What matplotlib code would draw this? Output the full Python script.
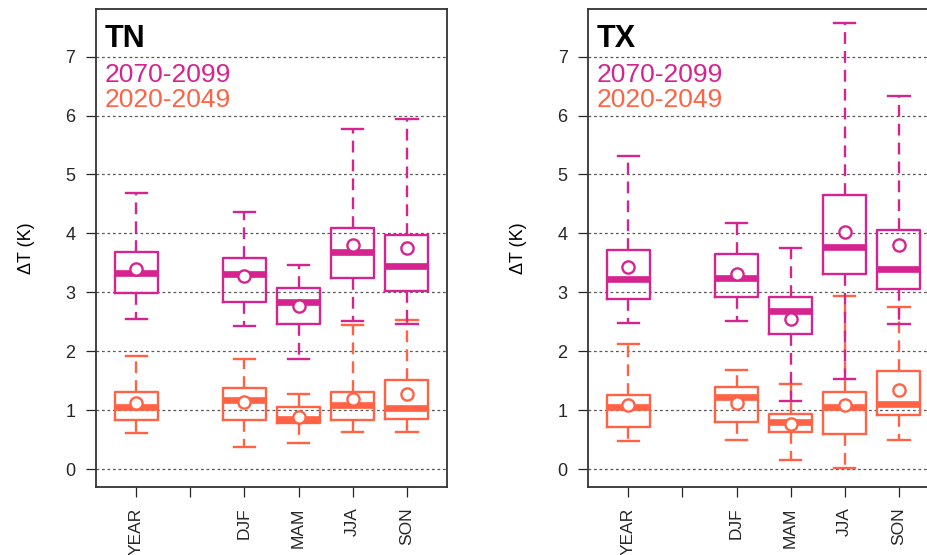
import matplotlib
matplotlib.use('Agg')
import matplotlib.pyplot as plt

plt.rcParams['font.family'] = ['Liberation Sans', 'DejaVu Sans']

seasons = ['YEAR', 'DJF', 'MAM', 'JJA', 'SON']
positions = [1, 3, 4, 5, 6]
tick_pos = [1, 2, 3, 4, 5, 6]
tick_labels = ['YEAR', '', 'DJF', 'MAM', 'JJA', 'SON']
periods = ['2070-2099', '2020-2049']

# TN, 2070-2099
tn_late_whislo = [2.55, 2.42, 1.87, 2.51, 2.46]
tn_late_q1 = [2.98, 2.83, 2.46, 3.25, 3.03]
tn_late_med = [3.32, 3.31, 2.83, 3.68, 3.45]
tn_late_q3 = [3.69, 3.59, 3.08, 4.10, 3.98]
tn_late_whishi = [4.68, 4.37, 3.46, 5.77, 5.94]
tn_late_mean = [3.39, 3.27, 2.76, 3.80, 3.75]

# TN, 2020-2049
tn_early_whislo = [0.61, 0.38, 0.45, 0.63, 0.63]
tn_early_q1 = [0.84, 0.84, 0.78, 0.84, 0.85]
tn_early_med = [1.05, 1.17, 0.85, 1.09, 1.03]
tn_early_q3 = [1.30, 1.37, 1.06, 1.30, 1.51]
tn_early_whishi = [1.92, 1.87, 1.27, 2.44, 2.53]
tn_early_mean = [1.12, 1.13, 0.88, 1.19, 1.27]

# TX, 2070-2099
tx_late_whislo = [2.48, 2.52, 1.16, 1.52, 2.47]
tx_late_q1 = [2.88, 2.92, 2.30, 3.31, 3.06]
tx_late_med = [3.23, 3.24, 2.69, 3.77, 3.40]
tx_late_q3 = [3.72, 3.65, 2.92, 4.66, 4.06]
tx_late_whishi = [5.32, 4.17, 3.75, 7.58, 6.34]
tx_late_mean = [3.43, 3.31, 2.55, 4.02, 3.81]

# TX, 2020-2049
tx_early_whislo = [0.48, 0.49, 0.15, 0.02, 0.49]
tx_early_q1 = [0.71, 0.79, 0.62, 0.59, 0.92]
tx_early_med = [1.06, 1.23, 0.80, 1.06, 1.11]
tx_early_q3 = [1.25, 1.39, 0.94, 1.31, 1.67]
tx_early_whishi = [2.12, 1.68, 1.44, 2.93, 2.75]
tx_early_mean = [1.08, 1.12, 0.76, 1.09, 1.34]

col_late = '#D5248F'
col_early = '#FF6244'


def make_stats(whislo, q1, med, q3, whishi, mean):
    stats = []
    for i in range(len(med)):
        stats.append(dict(whislo=whislo[i], q1=q1[i], med=med[i], q3=q3[i],
                          whishi=whishi[i], mean=mean[i], fliers=[]))
    return stats


def draw_box(ax, stats, col):
    ax.bxp(stats, positions=positions, widths=0.8, capwidths=0.4,
           showmeans=True, showfliers=False, manage_ticks=False,
           boxprops=dict(color=col, linewidth=1.7),
           medianprops=dict(color=col, linewidth=4.8, solid_capstyle='butt'),
           whiskerprops=dict(color=col, linewidth=1.7, linestyle=(0, (5, 3))),
           capprops=dict(color=col, linewidth=1.7),
           meanprops=dict(marker='o', markerfacecolor='white',
                          markeredgecolor=col, markeredgewidth=1.7,
                          markersize=8.8))


fig = plt.figure(figsize=(9.28, 5.55), dpi=100)
ax1 = fig.add_axes([0.1038, 0.1231, 0.3776, 0.8602])
ax2 = fig.add_axes([0.634, 0.1231, 0.3776, 0.8602])

panels = [
    (ax1, 'TN',
     make_stats(tn_early_whislo, tn_early_q1, tn_early_med, tn_early_q3, tn_early_whishi, tn_early_mean),
     make_stats(tn_late_whislo, tn_late_q1, tn_late_med, tn_late_q3, tn_late_whishi, tn_late_mean)),
    (ax2, 'TX',
     make_stats(tx_early_whislo, tx_early_q1, tx_early_med, tx_early_q3, tx_early_whishi, tx_early_mean),
     make_stats(tx_late_whislo, tx_late_q1, tx_late_med, tx_late_q3, tx_late_whishi, tx_late_mean)),
]

for ax, name, early, late in panels:
    for v in range(8):
        ax.axhline(v, color='0.35', linewidth=0.9, linestyle=(0, (2.2, 2.2)), zorder=0)
    draw_box(ax, early, col_early)
    draw_box(ax, late, col_late)

    ax.set_xlim(0.26, 6.74)
    ax.set_ylim(-0.30, 7.805)
    ax.set_yticks(range(8))
    ax.set_xticks(tick_pos)
    ax.set_xticklabels(tick_labels, rotation=90, fontsize=12.5, va='top')
    ax.tick_params(axis='y', labelsize=13, length=7.5, width=0.9, pad=7.5, colors='0.15')
    ax.tick_params(axis='x', length=7, width=0.9, pad=8, colors='0.15')
    ax.set_ylabel('ΔT (K)', fontsize=13, labelpad=22)
    for sp in ax.spines.values():
        sp.set_color('0.2')
        sp.set_linewidth(1.3)

    ax.text(0.023, 0.9217, name, transform=ax.transAxes, fontsize=22,
            fontweight='bold', color='black', va='baseline', ha='left')
    ax.text(0.023, 0.8483, periods[0], transform=ax.transAxes, fontsize=19,
            color=col_late, va='baseline', ha='left')
    ax.text(0.023, 0.7953, periods[1], transform=ax.transAxes, fontsize=19,
            color=col_early, va='baseline', ha='left')

fig.savefig('out.png', dpi=100)
